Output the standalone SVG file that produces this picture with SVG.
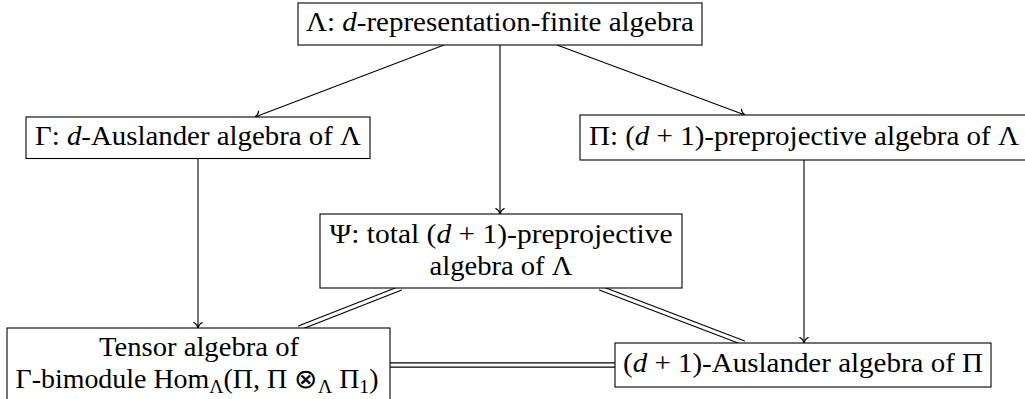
<svg xmlns="http://www.w3.org/2000/svg" width="1025" height="399" viewBox="0 0 1025 399">
<style>
  .box { fill: #fff; stroke: #000; stroke-width: 1.1; }
  .t { font-family: 'Liberation Serif', 'Times New Roman', serif; font-size: 27px; fill: #000; text-anchor: middle; }
  .i { font-style: italic; }
  .sub { font-size: 19px; }
  .arr { fill: none; stroke: #000; stroke-width: 1.1; marker-end: url(#to); }
  .dblo { fill: none; stroke: #000; stroke-width: 5.4; }
  .dbli { fill: none; stroke: #fff; stroke-width: 3.2; }
</style>
<defs>
  <marker id="to" markerUnits="userSpaceOnUse" viewBox="-7 -6 8 12" refX="0" refY="0" markerWidth="8" markerHeight="12" orient="auto" overflow="visible">
    <path d="M-5.5,-4.2 C-4.2,-1.6 -1.6,-0.35 0,0 C-1.6,0.35 -4.2,1.6 -5.5,4.2" fill="none" stroke="#000" stroke-width="1.1" stroke-linecap="round"/>
  </marker>
</defs>
<rect width="1025" height="399" fill="#fff"/>
<g id="connectors">
  <path class="arr" d="M444,45 L255,117"/>
  <path class="arr" d="M500,45 L500,214"/>
  <path class="arr" d="M557,45 L745,115"/>
  <path class="arr" d="M198,158.5 L198,328"/>
  <path class="arr" d="M804,160 L804,343"/>
  <path class="dblo" d="M401,288 L299,328"/>
  <path class="dbli" d="M401,288 L299,328"/>
  <path class="dblo" d="M600,288 L744,343"/>
  <path class="dbli" d="M600,288 L744,343"/>
  <path class="dblo" d="M390,365 L615,365"/>
  <path class="dbli" d="M390,365 L615,365"/>
</g>
<g id="lambda">
  <rect class="box" x="298" y="3" width="404" height="42"/>
  <text class="t" x="500" y="31" textLength="388" lengthAdjust="spacingAndGlyphs">Λ: <tspan class="i">d</tspan>-representation-finite algebra</text>
</g>
<g id="gamma">
  <rect class="box" x="26" y="117" width="344" height="41.5"/>
  <text class="t" x="198" y="144.5" textLength="326" lengthAdjust="spacingAndGlyphs">Γ: <tspan class="i">d</tspan>-Auslander algebra of Λ</text>
</g>
<g id="pi">
  <rect class="box" x="580" y="115" width="448" height="45"/>
  <text class="t" x="804" y="144.5" textLength="430" lengthAdjust="spacingAndGlyphs">Π: (<tspan class="i">d</tspan> + 1)-preprojective algebra of Λ</text>
</g>
<g id="psi">
  <rect class="box" x="320" y="214" width="362" height="74"/>
  <text class="t" x="501" y="243" textLength="343" lengthAdjust="spacingAndGlyphs">Ψ: total (<tspan class="i">d</tspan> + 1)-preprojective</text>
  <text class="t" x="501" y="275" textLength="143" lengthAdjust="spacingAndGlyphs">algebra of Λ</text>
</g>
<g id="tensor">
  <rect class="box" x="7" y="328" width="383" height="76"/>
  <text class="t" x="199" y="355.5" textLength="200" lengthAdjust="spacingAndGlyphs">Tensor algebra of</text>
  <text class="t" x="197" y="388" textLength="363" lengthAdjust="spacingAndGlyphs">Γ-bimodule Hom<tspan class="sub" dy="5">Λ</tspan><tspan dy="-5">(Π, Π ⊗</tspan><tspan class="sub" dy="5">Λ</tspan><tspan dy="-5"> Π</tspan><tspan class="sub" dy="5">1</tspan><tspan dy="-5">)</tspan></text>
</g>
<g id="auslander">
  <rect class="box" x="615" y="343" width="376" height="44"/>
  <text class="t" x="803" y="372" textLength="360" lengthAdjust="spacingAndGlyphs">(<tspan class="i">d</tspan> + 1)-Auslander algebra of Π</text>
</g>
</svg>
